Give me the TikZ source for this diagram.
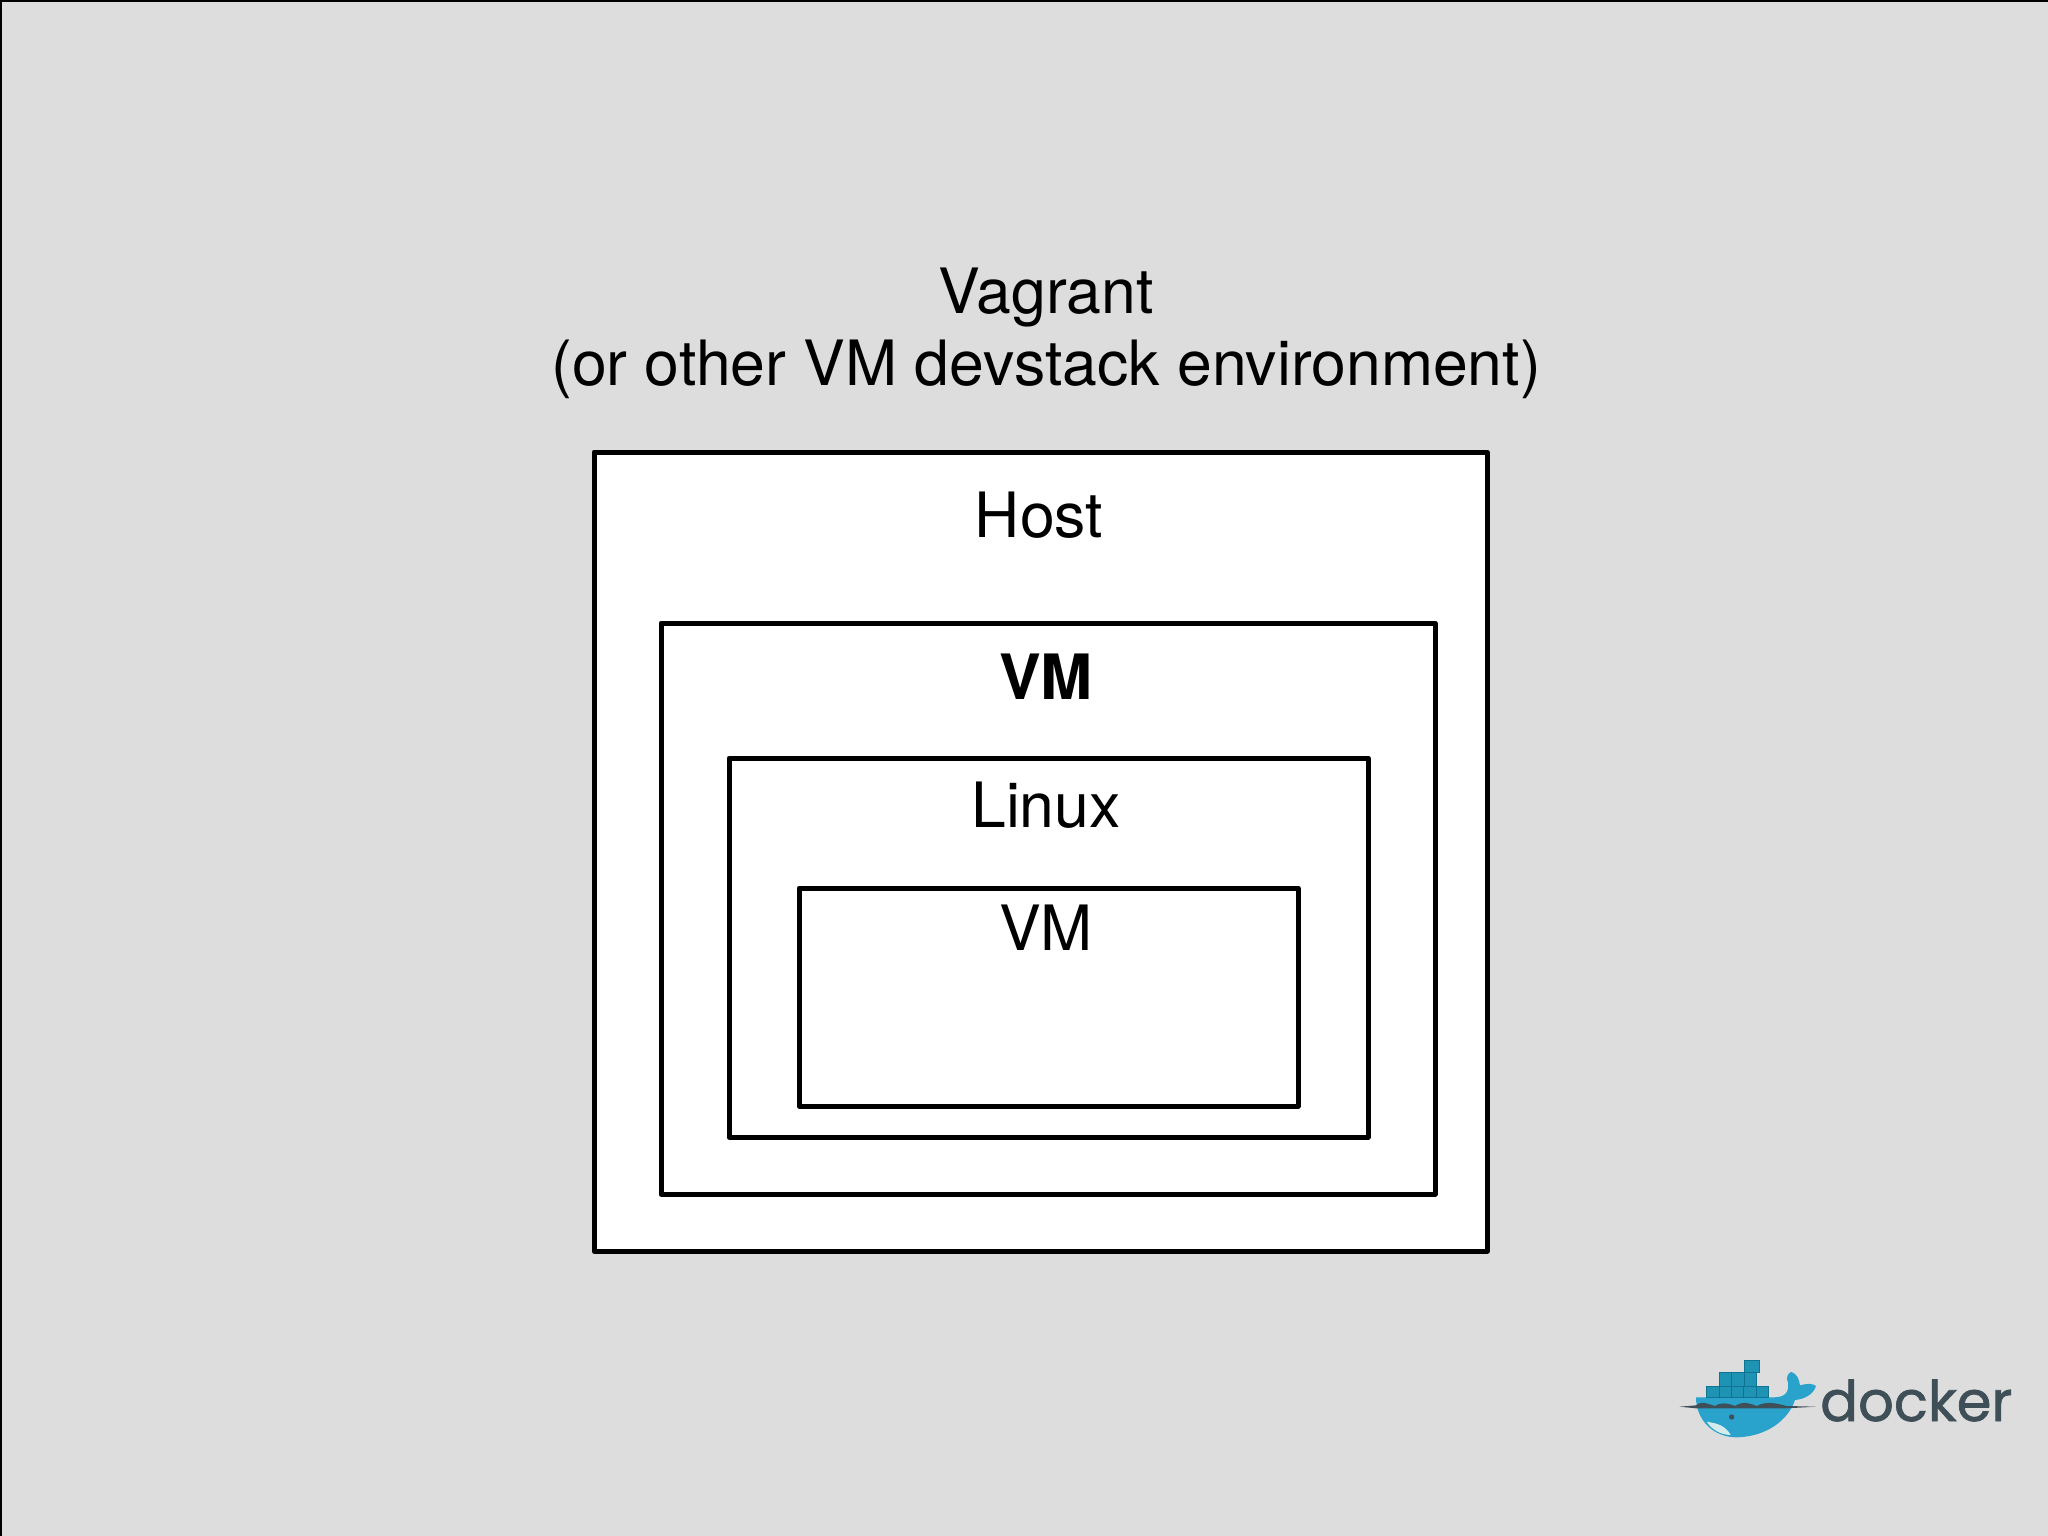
\documentclass[tikz,border=0pt]{standalone}
\usepackage{fontspec}
\setmainfont{TeX Gyre Heros}
\newfontfamily\logofont[FakeBold=1.2]{Poppins}
\definecolor{bgc}{HTML}{DDDDDE}
\definecolor{whaleblue}{HTML}{2AA3CC}
\definecolor{boxblue}{HTML}{1F93B4}
\definecolor{boxdark}{HTML}{0F7391}
\definecolor{logotext}{HTML}{3F4F57}
\definecolor{bellyc}{HTML}{D5ECEC}
\tikzset{
  x=1pt,y=-1pt,
  boxa/.style={draw=black,fill=white,line width=5pt,line join=round},
  lbl/.style={font=\fontsize{62.5}{62.5}\selectfont,anchor=base,inner sep=0pt,text=black},
  cargo/.style={fill=boxblue,draw=boxdark,line width=1pt},
}
\begin{document}
\begin{tikzpicture}
\useasboundingbox (0,0) rectangle (2048,1536);
\fill[bgc] (0,0) rectangle (2048,1536);
\draw[black,line width=2pt] (2048,1) -- (1,1) -- (1,1536);
\draw[boxa] (594,452) rectangle (1487,1251);
\draw[boxa] (661,623) rectangle (1435,1194);
\draw[boxa] (729,758) rectangle (1368,1137);
\draw[boxa] (799,888) rectangle (1298,1106);
\node[lbl] (vagrant) at (1046,313) {Vagrant};
\node[lbl] (sub) at (1046,385) {(or other VM devstack environment)};
\node[lbl] (host) at (1039,537) {Host};
\node[lbl,font=\fontsize{62.5}{62.5}\selectfont\bfseries] (vmbold) at (1046,699) {VM};
\node[lbl] (linux) at (1046,827) {Linux};
\node[lbl] (vm) at (1046,950) {VM};
\begin{scope}[shift={(1660,1340)},x=0.3333pt,y=-0.3333pt]
  % whale body
  \fill[whaleblue] (108,172) -- (340,172) .. controls (372,172) and (388,160) .. (384,128)
    .. controls (376,112) and (385,98) .. (394,96)
    .. controls (410,100) and (418,118) .. (420,136)
    .. controls (440,130) and (458,130) .. (468,138)
    .. controls (460,165) and (430,178) .. (405,180)
    .. controls (385,240) and (320,290) .. (230,292)
    .. controls (160,292) and (108,240) .. (108,172) -- cycle;
  \fill[bellyc] (140,245) .. controls (170,250) and (195,255) .. (212,285)
    .. controls (180,284) and (155,268) .. (140,245) -- cycle;
  \fill[logotext] (215,231) circle (8);
  % cargo
  \foreach \x in {140,177,214,251,288} \draw[cargo] (\x,138) rectangle +(37,33);
  \foreach \x in {178,215,252} \draw[cargo] (\x,97) rectangle +(37,41);
  \draw[cargo] (252,60) rectangle +(46,37);
  % water line
  \fill[logotext] (58,200) -- (108,196) .. controls (125,182) and (140,190) .. (165,198)
    .. controls (185,185) and (205,190) .. (225,198)
    .. controls (250,182) and (270,190) .. (290,198)
    .. controls (320,182) and (350,190) .. (380,198) -- (468,200) -- (380,205)
    -- (108,205) -- cycle;
\end{scope}
\node[font=\fontsize{56}{56}\selectfont\logofont,text=logotext,anchor=base west,inner sep=0pt] (logo) at (1820,1421) {docker};
\end{tikzpicture}
\end{document}
